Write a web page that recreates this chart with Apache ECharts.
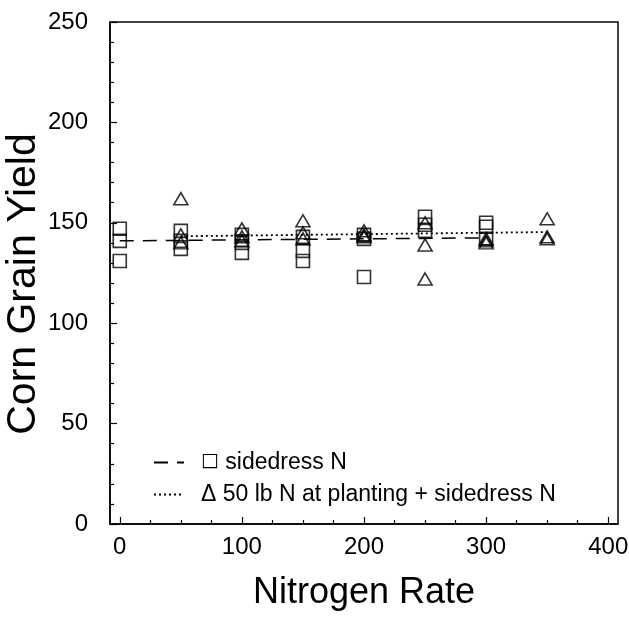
<!DOCTYPE html>
<html>
<head>
<meta charset="utf-8">
<script src="https://cdn.jsdelivr.net/npm/echarts@6/dist/echarts.min.js"></script>
<style>
  html, body { margin: 0; padding: 0; background: #ffffff; }
  #chart { width: 629px; height: 620px; }
</style>
</head>
<body>
<div id="chart"></div>
<script>
// Sidedress N only (squares): nitrogen rate and grain yield per plot
const sidedressRate  = [0, 0, 0, 50, 50, 50, 100, 100, 100, 150, 150, 150, 200, 200, 200, 250, 250, 250, 300, 300, 300];
const sidedressYield = [147, 141, 131, 146, 141, 137, 144, 140, 135, 143, 136, 131, 144, 142, 123, 153, 149, 146, 150, 148, 142];

// 50 lb N at planting + sidedress N (triangles)
const plantingRate  = [50, 50, 50, 100, 100, 100, 150, 150, 150, 200, 200, 200, 250, 250, 250, 300, 300, 300, 350, 350, 350];
const plantingYield = [162, 144, 140, 147, 143, 141, 151, 145, 142, 146, 144, 143, 150, 139, 122, 142, 141, 140, 152, 143, 142];

// Fitted response lines (end points)
const sidedressFitRate  = [0, 300];
const sidedressFitYield = [141, 142.5];
const plantingFitRate   = [50, 350];
const plantingFitYield  = [143.3, 145.4];

// Axis ticks
const xMajorTicks = [0, 100, 200, 300, 400];
const xMinorTicks = [25, 50, 75, 125, 150, 175, 225, 250, 275, 325, 350, 375];

const seriesNames = ['sidedress N', '50 lb N at planting + sidedress N'];
const legendGlyph = { 'sidedress N': '{sq|\u25A1}', '50 lb N at planting + sidedress N': '{tr|\u0394}' };

const pairs = (xs, ys) => xs.map((x, i) => [x, ys[i]]);

const FONT = '"Liberation Sans", Arial, Helvetica, sans-serif';
const INK = '#000000';

const chart = echarts.init(document.getElementById('chart'), null, { renderer: 'canvas' });

chart.setOption({
  backgroundColor: '#ffffff',
  animation: false,
  grid: {
    left: 110, right: 11, top: 22, bottom: 96,
    outerBoundsMode: 'none',
    show: true, borderColor: INK, borderWidth: 1.5, backgroundColor: 'transparent'
  },
  legend: {
    orient: 'vertical',
    left: 148, top: 446,
    itemWidth: 30, itemHeight: 14, itemGap: 9,
    data: seriesNames,
    selectedMode: false,
    itemStyle: { opacity: 0 },
    formatter: name => legendGlyph[name] + ' ' + name,
    textStyle: {
      color: INK, fontSize: 23, fontFamily: FONT, padding: [0, 0, 0, 12],
      rich: {
        sq: { fontSize: 19, fontFamily: '"DejaVu Sans", sans-serif', color: INK, padding: [0, 0, 2, 0] },
        tr: { fontSize: 23, fontFamily: FONT, color: INK }
      }
    }
  },
  xAxis: [
    {
      type: 'value', min: -8, max: 408, position: 'bottom',
      splitLine: { show: false },
      axisLine: { show: true, onZero: false, lineStyle: { color: INK, width: 1.5 } },
      axisTick: { show: true, inside: true, length: 7, customValues: xMajorTicks, lineStyle: { color: INK, width: 1.2 } },
      axisLabel: { customValues: xMajorTicks, color: INK, fontSize: 24, fontFamily: FONT, margin: 11 },
      name: 'Nitrogen Rate', nameLocation: 'middle', nameGap: 51, nameMoveOverlap: false,
      nameTextStyle: { color: INK, fontSize: 36, fontFamily: FONT }
    },
    {
      type: 'value', min: -8, max: 408, position: 'bottom',
      splitLine: { show: false },
      axisLine: { show: false, onZero: false },
      axisTick: { show: true, inside: true, length: 4, customValues: xMinorTicks, lineStyle: { color: INK, width: 1.2 } },
      axisLabel: { show: false }
    }
  ],
  yAxis: {
    type: 'value', min: 0, max: 250, interval: 50,
    splitLine: { show: false },
    axisLine: { show: true, onZero: false, lineStyle: { color: INK, width: 1.5 } },
    axisTick: { show: true, inside: true, length: 7, lineStyle: { color: INK, width: 1.2 } },
    minorTick: { show: true, splitNumber: 5, length: 4, lineStyle: { color: INK, width: 1.2 } },
    axisLabel: { color: INK, fontSize: 24, fontFamily: FONT, margin: 22 },
    name: 'Corn Grain Yield', nameLocation: 'middle', nameGap: 66, nameRotate: 90, nameMoveOverlap: false,
    nameTextStyle: { color: INK, fontSize: 41, fontFamily: FONT, padding: [0, 22, 0, 0] }
  },
  series: [
    {
      name: seriesNames[0], type: 'line', symbol: 'none',
      data: pairs(sidedressFitRate, sidedressFitYield),
      lineStyle: { color: INK, width: 1.5, type: [14, 9] }, z: 3
    },
    {
      name: seriesNames[1], type: 'line', symbol: 'none',
      data: pairs(plantingFitRate, plantingFitYield),
      lineStyle: { color: INK, width: 1.8, type: [2, 3] }, z: 3
    },
    {
      name: 'sidedress N points', type: 'scatter', symbol: 'rect', symbolSize: 13,
      data: pairs(sidedressRate, sidedressYield),
      itemStyle: { color: 'transparent', borderColor: INK, borderWidth: 1.6 }, z: 4
    },
    {
      name: 'planting points', type: 'scatter', symbol: 'triangle', symbolSize: [14, 12],
      data: pairs(plantingRate, plantingYield),
      itemStyle: { color: 'transparent', borderColor: INK, borderWidth: 1.6 }, z: 4
    }
  ]
});
</script>
</body>
</html>
